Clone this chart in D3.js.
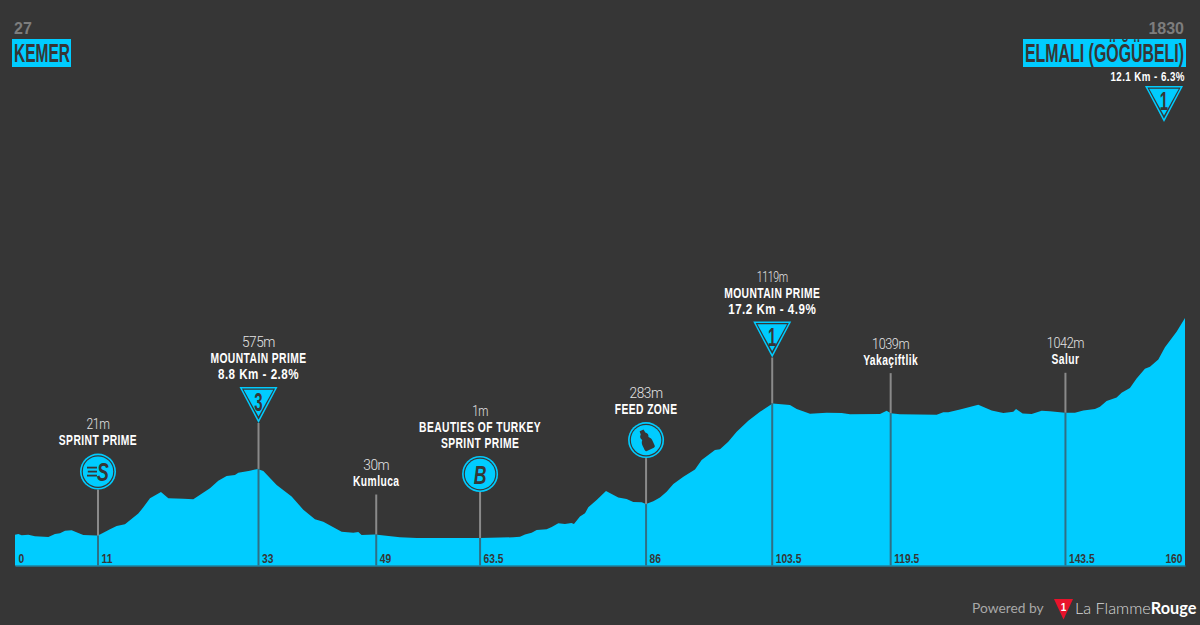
<!doctype html>
<html lang="en">
<head>
<meta charset="UTF-8">
<title>Kemer - Elmali</title>
<style type="text/css">
html, body { margin: 0; padding: 0; background: #363636; }
svg { display: block; }
svg text { font-family: "Liberation Sans", sans-serif; }
.name { font-weight: bold; font-size: 14.5px; fill: #fff; text-anchor: middle; letter-spacing: 0.6px; }
.alt { font-family: Roboto, sans-serif; font-weight: 300; font-size: 15.5px; fill: #e4e4e4; text-anchor: middle; letter-spacing: -0.5px; }
</style>
<script src="https://cdn.jsdelivr.net/npm/d3@7/dist/d3.min.js"></script>
</head>
<body>
<script type="text/javascript">
// profile
var profileKm = [0, 0.46, 0.91, 1.82, 2.73, 4.56, 5.47, 6.15, 6.84, 7.75, 8.66, 9.34, 11.17, 11.62, 12.99, 13.9, 15.04, 16.86, 17.55, 18.46, 19.96, 20.97, 23.02, 24.38, 26.66, 27.8, 28.94, 30.08, 30.54, 32.13, 33.18, 33.96, 35.78, 37.83, 39.43, 41.02, 42.16, 44.67, 46.26, 46.95, 47.4, 49.23, 52.64, 54.93, 63.59, 68.15, 69.06, 69.74, 70.65, 71.34, 72.7, 73.4, 74.3, 75.2, 76.1, 76.44, 77.26, 77.95, 78.4, 79.54, 80.82, 82.5, 83.64, 84.55, 85.7, 86.29, 87.29, 88.2, 89.11, 90.03, 91.4, 92.99, 93.9, 94.81, 95.72, 96.41, 97.54, 98.69, 100.28, 101.88, 103.6, 105.98, 106.9, 108.72, 111, 113.05, 114.19, 118.29, 119.2, 119.75, 121.02, 126.04, 126.95, 127.63, 129.23, 131.73, 133.56, 135.15, 136.52, 136.89, 137.8, 139.03, 140.4, 141.53, 143.59, 144.95, 146.09, 147.69, 148.37, 149.28, 150.65, 151.33, 152.47, 153.38, 154.52, 155.21, 156.35, 157.26, 158.85, 160];
var profileElev = [27, 34, 23, 29, 15, 9, 34, 40, 62, 65, 43, 26, 21, 31, 73, 101, 115, 204, 256, 331, 384, 331, 328, 323, 414, 477, 516, 525, 544, 561, 575, 558, 441, 345, 235, 157, 137, 54, 45, 51, 26, 30, 7, 1, 1, 7, 12, 31, 45, 67, 73, 93, 123, 118, 126, 118, 179, 207, 256, 317, 392, 337, 325, 300, 298, 283, 306, 337, 386, 450, 511, 571, 649, 691, 733, 738, 801, 885, 975, 1050, 1119, 1106, 1073, 1034, 1043, 1040, 1029, 1032, 1059, 1039, 1029, 1026, 1046, 1046, 1070, 1109, 1062, 1040, 1051, 1073, 1037, 1032, 1059, 1054, 1042, 1043, 1062, 1073, 1093, 1140, 1170, 1209, 1248, 1328, 1408, 1425, 1486, 1586, 1716, 1830];

// points along the route
var markerKm = [11.35, 33.3, 49.4, 63.6, 86.3, 103.55, 119.75, 143.65];
var markerTick = ["11", "33", "49", "63.5", "86", "103.5", "119.5", "143.5"];
var markerElev = [21, 575, 30, 1, 283, 1119, 1039, 1042];
var markerText = [["SPRINT PRIME"], ["MOUNTAIN PRIME", "8.8 Km - 2.8%"], ["Kumluca"], ["BEAUTIES OF TURKEY", "SPRINT PRIME"], ["FEED ZONE"], ["MOUNTAIN PRIME", "17.2 Km - 4.9%"], ["Yakaçiftlik"], ["Salur"]];
var markerIcon = ["sprint", "3", "", "B", "feed", "1", "", ""];

var startName = "KEMER", startElev = 27;
var finishName = "ELMALI (GÖĞÜBELI)", finishElev = 1830, finishClimb = "12.1 Km - 6.3%", finishCat = "1";

var w = 1200, h = 625;
var blue = "#00ccff", dark = "#363636";
var baseY = 565.5, pinIcon = 46, pinText = 40;

var svg = d3.select("body").append("svg").attr("width", w).attr("height", h);
svg.append("rect").attr("width", w).attr("height", h).attr("fill", dark);

// no narrow font installed, so squeeze the glyphs
function squeeze(sel, ratio, less) {
	sel.each(function () {
		var n = this.getComputedTextLength();
		d3.select(this).attr("textLength", n * ratio - (less || 0)).attr("lengthAdjust", "spacingAndGlyphs");
	});
	return sel;
}

var x = d3.scaleLinear().domain([0, 160]).range([15, 1185]);
var y = d3.scaleLinear().domain([1, 1830]).range([538, 318]);

var area = d3.area()
	.x(function (d, i) { return x(profileKm[i]); })
	.y0(baseY)
	.y1(function (d) { return y(d); });

svg.append("path").datum(profileElev).attr("d", area).attr("fill", blue);

// km labels sit inside the profile, right of the pin
var tickValues = [0].concat(markerKm, [160]);
var tickLabels = ["0"].concat(markerTick, ["160"]);
var axis = d3.axisBottom(x).tickValues(tickValues).tickSize(0)
	.tickFormat(function (d, i) { return tickLabels[i]; });
var axisG = svg.append("g").attr("transform", "translate(0," + baseY + ")").call(axis);
axisG.select(".domain").attr("stroke", "#14a5d0").attr("stroke-width", 1.2);
axisG.selectAll("text")
	.attr("y", -3)
	.attr("dy", 0)
	.attr("dx", function (d, i) { return i === tickValues.length - 1 ? -3 : 3; })
	.attr("text-anchor", function (d, i) { return i === tickValues.length - 1 ? "end" : "start"; })
	.attr("fill", dark)
	.style("font-family", '"Liberation Sans", sans-serif')
	.style("font-weight", "bold")
	.style("font-size", "13.5px")
	.call(squeeze, 0.76);

function triangle(g, cx, top, label) {
	var mk = function (dx, t, b) { return "M" + (cx - dx) + "," + t + "L" + (cx + dx) + "," + t + "L" + cx + "," + b + "Z"; };
	g.append("path").attr("d", mk(19, top, top + 36)).attr("fill", blue);
	g.append("path").attr("d", mk(16.6, top + 1.6, top + 32.8)).attr("fill", dark);
	g.append("path").attr("d", mk(14.8, top + 2.8, top + 29.6)).attr("fill", blue);
	g.append("text").attr("x", cx).attr("y", top + 24).attr("text-anchor", "middle")
		.attr("font-size", 25).attr("font-weight", "bold").attr("fill", dark).text(label)
		.call(squeeze, 0.6);
}

function circleIcon(g, cx, cy, type) {
	g.append("circle").attr("cx", cx).attr("cy", cy).attr("r", 18).attr("fill", blue);
	g.append("circle").attr("cx", cx).attr("cy", cy).attr("r", 16.4).attr("fill", dark);
	g.append("circle").attr("cx", cx).attr("cy", cy).attr("r", 15.2).attr("fill", blue);
	if (type === "B") {
		g.append("text").attr("x", cx).attr("y", cy + 9.5).attr("text-anchor", "middle")
			.attr("font-size", 26).attr("font-weight", "bold").attr("font-style", "italic")
			.attr("fill", dark).text("B").call(squeeze, 0.68);
	} else if (type === "sprint") {
		g.append("text").attr("x", cx + 5).attr("y", cy + 9.5).attr("text-anchor", "middle")
			.attr("font-size", 26).attr("font-weight", "bold").attr("font-style", "italic")
			.attr("fill", dark).text("S").call(squeeze, 0.68);
		[-4, 0, 4].forEach(function (o, i) {
			g.append("line").attr("x1", cx - 11 + i * 0.8 - (i === 2 ? 1.6 : 0)).attr("x2", cx - 1)
				.attr("y1", cy + o).attr("y2", cy + o)
				.attr("stroke", dark).attr("stroke-width", 1.8);
		});
	} else {
		// bottle
		g.append("path")
			.attr("transform", "translate(" + cx + "," + cy + ") rotate(-25) scale(0.85)")
			.attr("d", "M-2.5,-12.5L2.5,-12.5L3,-8.5C5.5,-6.5 5.5,-4 4,-2C6,0 6.5,2 6.5,4L6.5,10Q6.5,12 4.5,12L-4.5,12Q-6.5,12 -6.5,10L-6.5,4C-6.5,2 -6,0 -4,-2C-5.5,-4 -5.5,-6.5 -3,-8.5Z")
			.attr("fill", dark);
	}
}

var pins = svg.append("g");
markerKm.forEach(function (km, i) {
	var px = x(km), py = y(markerElev[i]);
	var icon = markerIcon[i];
	var top = py - (icon ? pinIcon : pinText);
	pins.append("line").attr("x1", px).attr("x2", px).attr("y1", top).attr("y2", py)
		.attr("stroke", "#8a8a8a").attr("stroke-width", 2);
	pins.append("line").attr("x1", px).attr("x2", px).attr("y1", py).attr("y2", baseY)
		.attr("stroke", "#2f6f85").attr("stroke-width", 2);

	var textBottom;
	if (icon === "1" || icon === "3") {
		triangle(pins, px, top - 36, icon);
		textBottom = top - 43.5;
	} else if (icon) {
		circleIcon(pins, px, top - 18, icon);
		textBottom = top - 44.5;
	} else {
		textBottom = top - 8.5;
	}
	var lines = markerText[i];
	lines.forEach(function (t, j) {
		pins.append("text").attr("class", "name").attr("x", px)
			.attr("y", textBottom - (lines.length - 1 - j) * 16).text(t)
			.call(squeeze, t.indexOf("Km") >= 0 ? 0.8 : 0.71);
	});
	// the reference's 1 is a very thin digit
	var ones = String(markerElev[i]).split("1").length - 1;
	pins.append("text").attr("class", "alt").attr("x", px)
		.attr("y", textBottom - lines.length * 16).text(markerElev[i] + "m")
		.call(squeeze, 0.88, ones * 3);
});

// start and finish headers
function header(name, elev, boxX, boxW, anchor, textX, textW) {
	svg.append("rect").attr("x", boxX).attr("y", 39).attr("width", boxW).attr("height", 28).attr("fill", blue);
	svg.append("text").attr("x", textX).attr("y", 62).attr("text-anchor", anchor)
		.attr("font-size", 26).attr("font-weight", "bold").attr("fill", dark)
		.attr("textLength", textW).attr("lengthAdjust", "spacingAndGlyphs").text(name);
	svg.append("text").attr("x", textX).attr("y", 34).attr("text-anchor", anchor)
		.attr("font-size", 16).attr("font-weight", "bold").attr("fill", "#7d7d7d").text(elev);
}
header(startName, startElev, 12, 59, "start", 14, 56);
header(finishName, finishElev, 1023, 163, "end", 1184, 159);

svg.append("text").attr("class", "name").attr("x", 1185).attr("y", 81)
	.style("text-anchor", "end").style("font-size", "13px").text(finishClimb)
	.call(squeeze, 0.75);
triangle(svg, 1164, 86, finishCat);

// footer
svg.append("text").attr("x", 972).attr("y", 613).attr("font-size", 13.8)
	.style("font-family", "Lato, sans-serif").attr("fill", "#a8a8a8").text("Powered by");
svg.append("path").attr("d", "M1054,599L1073,599L1063.5,619.5Z").attr("fill", "#e8132b");
svg.append("text").attr("x", 1063.5).attr("y", 611).attr("text-anchor", "middle")
	.attr("font-size", 10).attr("font-weight", "bold").attr("fill", "#fff").text("1");
var brand = svg.append("text").attr("x", 1075).attr("y", 614).attr("font-size", 16.3)
	.style("font-family", "Lato, sans-serif");
brand.append("tspan").attr("fill", "#d8d8d8").attr("font-weight", 300).text("La Flamme");
brand.append("tspan").attr("fill", "#fff").attr("font-weight", 700).text("Rouge");
</script>
</body>
</html>
